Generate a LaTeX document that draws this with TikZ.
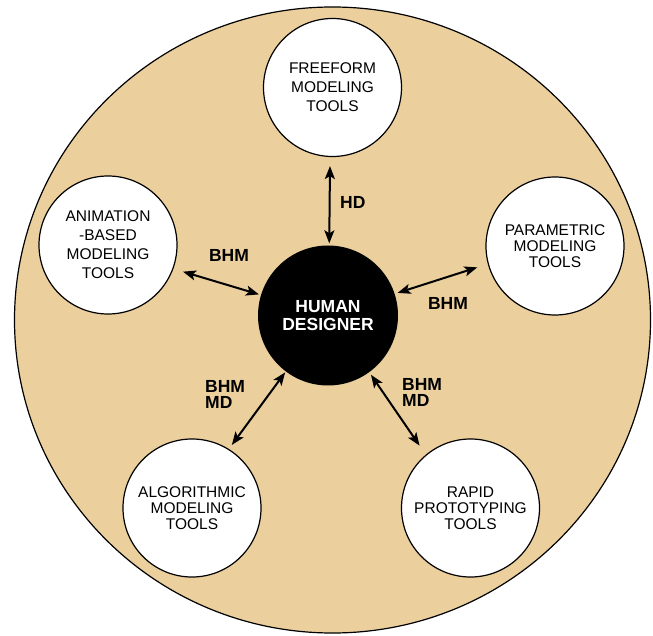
\documentclass[tikz,border=0pt]{standalone}
\usepackage{fontspec}
\setmainfont{Liberation Sans}
\usetikzlibrary{arrows.meta}
\definecolor{bgtan}{RGB}{235,208,158}
\begin{document}
\begin{tikzpicture}[x=1pt,y=-1pt,
  tool/.style={circle,draw=black,line width=1.2pt,fill=white,minimum size=138pt,inner sep=0pt,align=center,font=\fontsize{15.5}{19}\selectfont},
  toolb/.style={tool,font=\fontsize{15.5}{16}\selectfont},
  lbl/.style={inner sep=0pt,align=left,font=\fontsize{17.5}{16.5}\selectfont\bfseries},
  link/.style={line width=2pt,{Stealth[length=13pt,width=10pt,inset=3pt]}-{Stealth[length=13pt,width=10pt,inset=3pt]}}
]
\useasboundingbox (0,0) rectangle (653,636);
\draw[line width=1.2pt,fill=bgtan] (332.5,320) ellipse [x radius=318pt, y radius=313pt];

\node[circle,fill=black,minimum size=140pt,inner sep=0pt,text=white,align=center,
      font=\fontsize{17.5}{18}\selectfont\bfseries] (hd) at (328,315.5) {HUMAN\\DESIGNER};

\node[tool]  (free)  at (332.5,87.5) {FREEFORM\\MODELING\\TOOLS};
\node[tool]  (anim)  at (108,245)   {ANIMATION\\-BASED\\MODELING\\TOOLS};
\node[toolb] (param) at (555,246)   {PARAMETRIC\\MODELING\\TOOLS};
\node[toolb] (algo)  at (192,508)   {ALGORITHMIC\\MODELING\\TOOLS};
\node[toolb] (rapid) at (470.5,508) {RAPID\\PROTOTYPING\\TOOLS};

\draw[link,shorten <=9pt,shorten >=2pt]  (free.-92.5) -- (hd.89);
\draw[link,shorten <=10pt,shorten >=2pt] (anim.-20) -- (hd.163.5);
\draw[link,shorten <=3pt,shorten >=11pt] (hd.18.8) -- (param.195.3);
\draw[link,shorten <=1pt,shorten >=5pt]  (hd.-127.3) -- (algo.58.2);
\draw[link,shorten <=3pt,shorten >=11pt] (hd.-54.6) -- (rapid.130.7);

\node[lbl,anchor=base west] (lhd) at (340,208.5) {HD};
\node[lbl] (lbhm1) at (229,255) {BHM};
\node[lbl] (lbhm2) at (448,303.5) {BHM};
\node[lbl,anchor=north west] (lll) at (205,380) {BHM\\MD};
\node[lbl,anchor=north west] (llr) at (402,378) {BHM\\MD};
\end{tikzpicture}
\end{document}
